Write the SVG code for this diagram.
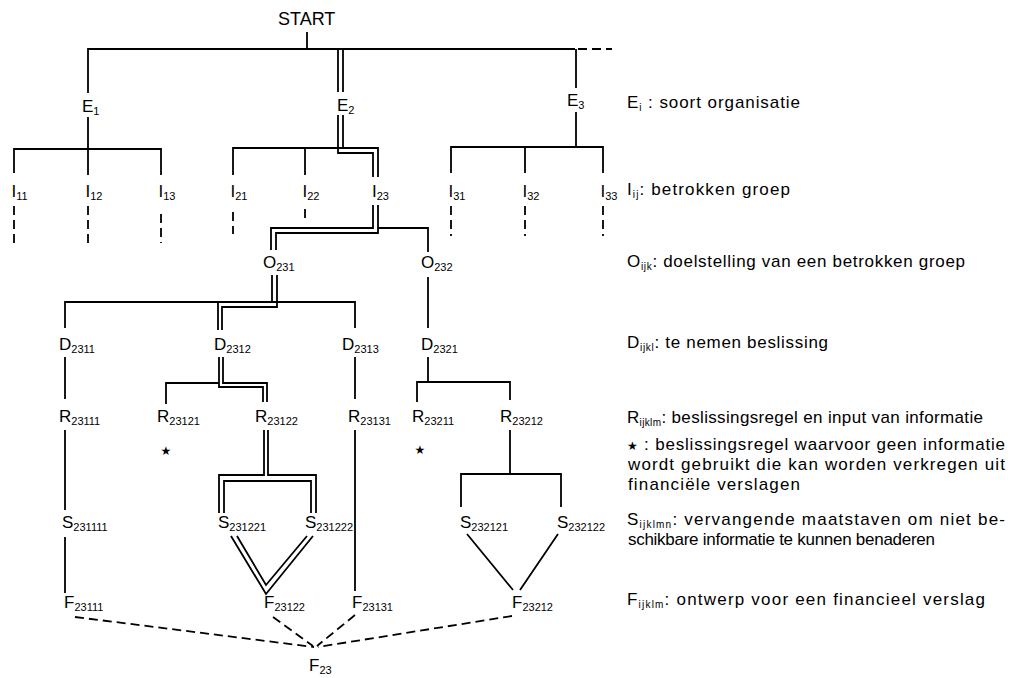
<svg xmlns="http://www.w3.org/2000/svg" width="1015" height="678" viewBox="0 0 1015 678">
<style>
.l{stroke:#000;stroke-width:1.8;fill:none;stroke-linejoin:miter}
.d{stroke-dasharray:9 5}
text{font-family:"Liberation Sans",Arial,sans-serif;font-size:17px;fill:#000}
.s{font-size:11px}
.r{font-size:17px}
.rs{font-size:10px}
.st{font-family:"DejaVu Sans",sans-serif;font-size:12px}
</style>
<rect width="1015" height="678" fill="#fff"/>
<g id="connectors">
<path class="l" d="M307,32 V49"/>
<path class="l" d="M88,93 V49 H575"/>
<path class="l d" d="M578,49 H612"/>
<path class="l" d="M88,117 V175 M14,173 V149 H161 V175"/>
<path class="l" d="M338,50 V92 M343,50 V92"/>
<path class="l" d="M338,115 V153 H373 V177 M343,115 V148 H378 V177"/>
<path class="l" d="M233,175 V148 H343 M305,148 V175"/>
<path class="l" d="M576,49 V88 M576,112 V147 M451,173 V147 H603 V173 M525,147 V173"/>
<path class="l d" d="M14,206 V245 M88,206 V245 M161,214 V243 M233,212 V234 M305,209 V218 M451,206 V236 M525,206 V236 M603,206 V236"/>
<path class="l" d="M373,205 V228 H271 V250 M378,205 V233 H276 V250 M378,228 H428 V252"/>
<path class="l" d="M272,275 V302 M277,275 V307 H222 V330 M65,328 V302 H355 V328 M218,302 V330"/>
<path class="l" d="M428,277 V328"/>
<path class="l" d="M65,357 V399 M355,357 V399 M428,357 V382 M417,402 V382 H510 V400"/>
<path class="l" d="M223,357 V383 H267 V402 M219,357 V387 H263 V402 M166,404 V383 H219"/>
<path class="l" d="M65,430 V510 M65,537 V593 M355,430 V591"/>
<path class="l" d="M264,430 V475 H219 V513 M268,430 V475 H316 V513 M224,513 V481 H311 V513"/>
<path class="l" d="M231,536 L266,594 L313,536 M237,536 L266,585 L307,536"/>
<path class="l" d="M510,430 V474 M461,507 V474 H561 V507 M467,534 L513,590 M558,534 L520,590"/>
<path class="l d" d="M75,617 L314,647 M273,617 L313,646 M355,615 L317,646 M512,616 L318,647"/>
</g>
<g id="START"><text x="278" y="25" style="font-size:18px">START</text></g>
<g id="E1"><text x="82" y="112">E<tspan class="s" dy="3">1</tspan></text></g>
<g id="E2"><text x="337" y="111">E<tspan class="s" dy="3">2</tspan></text></g>
<g id="E3"><text x="567" y="106">E<tspan class="s" dy="3">3</tspan></text></g>
<g id="I11"><text x="11.5" y="197">I<tspan class="s" dy="3">11</tspan></text></g>
<g id="I12"><text x="85.5" y="197">I<tspan class="s" dy="3">12</tspan></text></g>
<g id="I13"><text x="158.5" y="197">I<tspan class="s" dy="3">13</tspan></text></g>
<g id="I21"><text x="230.5" y="197">I<tspan class="s" dy="3">21</tspan></text></g>
<g id="I22"><text x="302.5" y="197">I<tspan class="s" dy="3">22</tspan></text></g>
<g id="I23"><text x="372" y="197">I<tspan class="s" dy="3">23</tspan></text></g>
<g id="I31"><text x="448.5" y="197">I<tspan class="s" dy="3">31</tspan></text></g>
<g id="I32"><text x="522.5" y="197">I<tspan class="s" dy="3">32</tspan></text></g>
<g id="I33"><text x="600.5" y="197">I<tspan class="s" dy="3">33</tspan></text></g>
<g id="O231"><text x="263" y="268">O<tspan class="s" dy="3">231</tspan></text></g>
<g id="O232"><text x="421" y="268">O<tspan class="s" dy="3">232</tspan></text></g>
<g id="D2311"><text x="59" y="350">D<tspan class="s" dy="3">2311</tspan></text></g>
<g id="D2312"><text x="214" y="350">D<tspan class="s" dy="3">2312</tspan></text></g>
<g id="D2313"><text x="342" y="350">D<tspan class="s" dy="3">2313</tspan></text></g>
<g id="D2321"><text x="421" y="350">D<tspan class="s" dy="3">2321</tspan></text></g>
<g id="R23111"><text x="59" y="422">R<tspan class="s" dy="3">23111</tspan></text></g>
<g id="R23121"><text x="157" y="422">R<tspan class="s" dy="3">23121</tspan></text></g>
<g id="R23122"><text x="255" y="422">R<tspan class="s" dy="3">23122</tspan></text></g>
<g id="R23131"><text x="348" y="422">R<tspan class="s" dy="3">23131</tspan></text></g>
<g id="R23211"><text x="412" y="422">R<tspan class="s" dy="3">23211</tspan></text></g>
<g id="R23212"><text x="500" y="422">R<tspan class="s" dy="3">23212</tspan></text></g>
<g id="star1"><text class="st" x="166" y="455" text-anchor="middle">★</text></g>
<g id="star2"><text class="st" x="420" y="454" text-anchor="middle">★</text></g>
<g id="S231111"><text x="62" y="528">S<tspan class="s" dy="3">231111</tspan></text></g>
<g id="S231221"><text x="218" y="528">S<tspan class="s" dy="3">231221</tspan></text></g>
<g id="S231222"><text x="305" y="528">S<tspan class="s" dy="3">231222</tspan></text></g>
<g id="S232121"><text x="460" y="528">S<tspan class="s" dy="3">232121</tspan></text></g>
<g id="S232122"><text x="557" y="528">S<tspan class="s" dy="3">232122</tspan></text></g>
<g id="F23111"><text x="64" y="608">F<tspan class="s" dy="3">23111</tspan></text></g>
<g id="F23122"><text x="264" y="608">F<tspan class="s" dy="3">23122</tspan></text></g>
<g id="F23131"><text x="352" y="608">F<tspan class="s" dy="3">23131</tspan></text></g>
<g id="F23212"><text x="512" y="608">F<tspan class="s" dy="3">23212</tspan></text></g>
<g id="F23"><text x="309" y="671">F<tspan class="s" dy="3">23</tspan></text></g>
<g id="legend">
<text class="r" x="627" y="108" textLength="173" lengthAdjust="spacing">E<tspan class="rs" dy="3">i</tspan><tspan dy="-3"> : soort organisatie</tspan></text>
<text class="r" x="627" y="195" textLength="163" lengthAdjust="spacing">I<tspan class="rs" dy="3">ij</tspan><tspan dy="-3">: betrokken groep</tspan></text>
<text class="r" x="627" y="267" textLength="338" lengthAdjust="spacing">O<tspan class="rs" dy="3">ijk</tspan><tspan dy="-3">: doelstelling van een betrokken groep</tspan></text>
<text class="r" x="627" y="348" textLength="201" lengthAdjust="spacing">D<tspan class="rs" dy="3">ijkl</tspan><tspan dy="-3">: te nemen beslissing</tspan></text>
<text class="r" x="627" y="423" textLength="356" lengthAdjust="spacing">R<tspan class="rs" dy="3">ijklm</tspan><tspan dy="-3">: beslissingsregel en input van informatie</tspan></text>
<text class="r" x="627" y="450" textLength="378" lengthAdjust="spacing"><tspan class="st">★</tspan> : beslissingsregel waarvoor geen informatie</text>
<text class="r" x="628" y="470" textLength="377" lengthAdjust="spacing">wordt gebruikt die kan worden verkregen uit</text>
<text class="r" x="628" y="490" textLength="172" lengthAdjust="spacing">financiële verslagen</text>
<text class="r" x="627" y="525" textLength="378" lengthAdjust="spacing">S<tspan class="rs" dy="3">ijklmn</tspan><tspan dy="-3">: vervangende maatstaven om niet be-</tspan></text>
<text class="r" x="628" y="545" textLength="307" lengthAdjust="spacing">schikbare informatie te kunnen benaderen</text>
<text class="r" x="627" y="605" textLength="358" lengthAdjust="spacing">F<tspan class="rs" dy="3">ijklm</tspan><tspan dy="-3">: ontwerp voor een financieel verslag</tspan></text>
</g>
</svg>
